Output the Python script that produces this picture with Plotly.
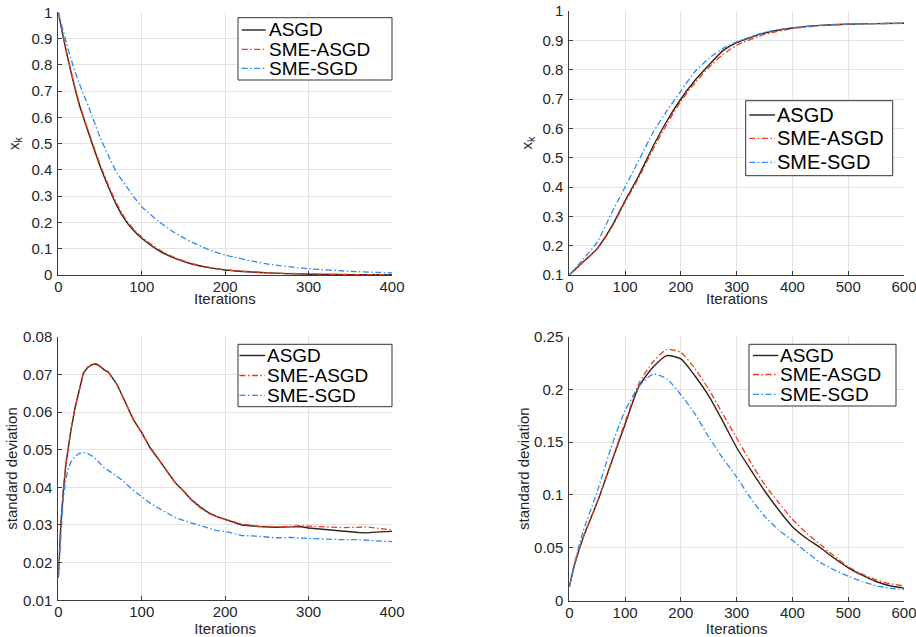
import plotly.graph_objects as go

# ---------------- data ----------------
# Panel 1 (top-left): x_k vs iterations
ITER_TL = [0, 5, 10, 15, 20, 25, 30, 40, 50, 60, 70, 80, 90, 100, 120, 140, 160, 180, 200, 250, 300, 350, 400]
TL_ASGD = [1.0, 0.92, 0.845, 0.775, 0.71, 0.65, 0.6, 0.505, 0.415, 0.336, 0.265, 0.21, 0.17, 0.14, 0.094, 0.063, 0.042, 0.028, 0.019, 0.008, 0.003, 0.0015, 0.0008]
TL_SME_ASGD = [1.0, 0.92, 0.848, 0.78, 0.715, 0.656, 0.605, 0.512, 0.422, 0.343, 0.272, 0.216, 0.176, 0.145, 0.098, 0.066, 0.044, 0.03, 0.02, 0.009, 0.004, 0.002, 0.001]
TL_SME_SGD = [1.0, 0.94, 0.88, 0.825, 0.775, 0.73, 0.69, 0.61, 0.525, 0.455, 0.39, 0.345, 0.3, 0.26, 0.205, 0.16, 0.125, 0.097, 0.076, 0.042, 0.024, 0.014, 0.008]

# Panel 2 (top-right): x_k vs iterations
ITER_TR = [0, 25, 50, 75, 100, 125, 150, 175, 200, 225, 250, 275, 300, 350, 400, 450, 500, 550, 600]
TR_ASGD = [0.1, 0.145, 0.19, 0.262, 0.353, 0.44, 0.538, 0.625, 0.7, 0.763, 0.815, 0.864, 0.892, 0.925, 0.942, 0.951, 0.955, 0.957, 0.958]
TR_SME_ASGD = [0.1, 0.144, 0.188, 0.258, 0.348, 0.433, 0.528, 0.615, 0.692, 0.755, 0.807, 0.851, 0.883, 0.92, 0.94, 0.95, 0.955, 0.957, 0.958]
TR_SME_SGD = [0.1, 0.154, 0.212, 0.308, 0.4, 0.492, 0.585, 0.66, 0.727, 0.793, 0.838, 0.872, 0.895, 0.927, 0.943, 0.951, 0.955, 0.957, 0.958]

# Panel 3 (bottom-left): standard deviation vs iterations
ITER_BL = [0, 3, 6, 9, 12, 15, 20, 25, 30, 35, 40, 45, 50, 55, 60, 70, 80, 90, 100, 110, 120, 130, 140, 150, 160,
           170, 180, 190, 200, 220, 240, 260, 280, 290, 300, 320, 340, 360, 370, 380, 400]
BL_ASGD = [0.016, 0.03, 0.039, 0.046, 0.0505, 0.055, 0.061, 0.066, 0.0703, 0.0718, 0.0725, 0.0728, 0.0722, 0.0712, 0.0706,
           0.0675, 0.0627, 0.058, 0.0545, 0.0505, 0.0475, 0.0445, 0.0413, 0.039, 0.0366,
           0.0348, 0.0333, 0.0322, 0.0314, 0.0300, 0.0296, 0.0294, 0.0295, 0.0296, 0.0292, 0.0287, 0.0284, 0.028, 0.0279, 0.0281, 0.0283]
BL_SME_ASGD = [0.016, 0.03, 0.039, 0.046, 0.0505, 0.0552, 0.0612, 0.0662, 0.0703, 0.0719, 0.0726, 0.0728, 0.0721, 0.0713, 0.0705,
               0.0674, 0.0628, 0.0581, 0.0544, 0.0507, 0.0476, 0.0444, 0.0412, 0.0391, 0.0367,
               0.0346, 0.0331, 0.0322, 0.0315, 0.0302, 0.0297, 0.0295, 0.0297, 0.0298, 0.0297, 0.0295, 0.0293, 0.0294, 0.0295, 0.0292, 0.0287]
BL_SME_SGD = [0.016, 0.028, 0.037, 0.042, 0.045, 0.0467, 0.0482, 0.049, 0.0493, 0.049, 0.0484, 0.0475, 0.0462, 0.0452, 0.0445,
              0.043, 0.0412, 0.0392, 0.0375, 0.0358, 0.0345, 0.0333, 0.032, 0.0312, 0.0306,
              0.0299, 0.0292, 0.0285, 0.0283, 0.0272, 0.027, 0.0266, 0.0267, 0.0265, 0.0264, 0.0263, 0.0261, 0.0261, 0.0259, 0.0258, 0.0256]

# Panel 4 (bottom-right): standard deviation vs iterations
ITER_BR = [0, 10, 25, 50, 75, 100, 125, 150, 175, 200, 225, 250, 275, 300, 325, 350, 375, 400, 425, 450, 475, 500, 525, 550, 575, 600]
BR_ASGD = [0.013, 0.035, 0.06, 0.093, 0.13, 0.167, 0.203, 0.221, 0.232, 0.229, 0.213, 0.194, 0.17, 0.145, 0.124, 0.104, 0.086, 0.07, 0.059, 0.05, 0.04, 0.031, 0.024, 0.018, 0.014, 0.0117]
BR_SME_ASGD = [0.013, 0.035, 0.06, 0.093, 0.131, 0.169, 0.206, 0.226, 0.238, 0.235, 0.22, 0.2, 0.177, 0.154, 0.131, 0.11, 0.093, 0.077, 0.064, 0.053, 0.042, 0.032, 0.025, 0.0196, 0.016, 0.0139]
BR_SME_SGD = [0.013, 0.037, 0.066, 0.103, 0.145, 0.18, 0.203, 0.2145, 0.21, 0.195, 0.177, 0.155, 0.135, 0.117, 0.097, 0.08, 0.067, 0.057, 0.046, 0.036, 0.029, 0.023, 0.018, 0.014, 0.0115, 0.0105]

SERIES_NAMES = ["ASGD", "SME-ASGD", "SME-SGD"]
X_TITLE = "Iterations"
Y_TITLES = ["x<sub>k</sub>", "x<sub>k</sub>", "standard deviation", "standard deviation"]

# ---------------- style / layout ----------------
FONT = "Liberation Sans, Arial, Helvetica, sans-serif"
COLORS = ["#2e221e", "#f03c16", "#2a8cf5"]
DASHES = ["solid", "6px,2.5px,1.5px,2.5px", "6px,2.5px,1.5px,2.5px"]
WIDTHS = [1.4, 1.3, 1.3]
W, H = 916, 637


def px(v):
    return v / W


def py(v):
    return 1 - v / H


panels = [
    dict(iters=ITER_TL, ys=[TL_ASGD, TL_SME_ASGD, TL_SME_SGD], xr=[0, 400], yr=[0, 1], ydt=0.1,
         dom=([58.3, 392], [12.3, 275]), ystand=8, xtitle_y=298, shape="spline",
         leg=dict(box=(238, 17.7, 392, 80), rows=(30, 49.3, 68.3), line=(241.7, 265.7), text=267.5, fs=19)),
    dict(iters=ITER_TR, ys=[TR_ASGD, TR_SME_ASGD, TR_SME_SGD], xr=[0, 600], yr=[0.1, 1], ydt=0.1,
         dom=([569.3, 904], [11, 275]), ystand=6, xtitle_y=298, shape="spline",
         leg=dict(box=(745.7, 100.7, 892.7, 175.7), rows=(115, 138.3, 162.3), line=(749.3, 775), text=775.5, fs=20)),
    dict(iters=ITER_BL, ys=[BL_ASGD, BL_SME_ASGD, BL_SME_SGD], xr=[0, 400], yr=[0.01, 0.08], ydt=0.01,
         dom=([58.3, 392], [336.7, 600.3]), ystand=1, xtitle_y=None, shape="linear",
         leg=dict(box=(238, 344.3, 392, 406.7), rows=(355.5, 375.5, 395.3), line=(239.5, 265), text=266, fs=19)),
    dict(iters=ITER_BR, ys=[BR_ASGD, BR_SME_ASGD, BR_SME_SGD], xr=[0, 600], yr=[0, 0.25], ydt=0.05,
         dom=([569.3, 904], [336.7, 600.5]), ystand=0, xtitle_y=None, shape="spline",
         leg=dict(box=(749, 344.3, 896, 406), rows=(355.5, 374.5, 394.3), line=(753, 778.3), text=778.5, fs=19)),
]

fig = go.Figure()
layout = dict(
    width=W, height=H, margin=dict(l=0, r=0, t=0, b=0),
    paper_bgcolor="white", plot_bgcolor="white",
    font=dict(family=FONT, size=15, color="#262626"),
    showlegend=False,
)
shapes, annotations = [], []

for i, p in enumerate(panels):
    n = "" if i == 0 else str(i + 1)
    xa, ya = "x" + n, "y" + n
    for k in range(3):
        fig.add_trace(go.Scatter(
            x=p["iters"], y=p["ys"][k], name=SERIES_NAMES[k], mode="lines",
            line=dict(color=COLORS[k], width=WIDTHS[k], dash=DASHES[k], shape=p["shape"], smoothing=0.6),
            xaxis=xa, yaxis=ya, showlegend=False,
        ))
    (x0, x1), (y0, y1) = p["dom"]
    axcommon = dict(showline=True, linecolor="#3c3c3c", linewidth=1, ticks="inside", ticklen=4,
                    tickcolor="#3c3c3c", showgrid=True, gridcolor="#e3e3e3", gridwidth=1, zeroline=False,
                    automargin=False, ticklabeloverflow="allow",
                    tickfont=dict(size=15, color="#262626", family=FONT), mirror=False)
    xaxis = dict(axcommon, domain=[px(x0), px(x1)], range=p["xr"], dtick=100, tick0=0, anchor=ya,
                 ticklabelstandoff=-2)
    if p["xtitle_y"] is None:
        xaxis["title"] = dict(text=X_TITLE, font=dict(size=15, color="#262626"), standoff=4)
    else:
        annotations.append(dict(xref="x" + n + " domain", yref="paper", x=0.5, y=py(p["xtitle_y"]),
                                xanchor="center", yanchor="middle", text=X_TITLE, showarrow=False,
                                font=dict(family=FONT, size=15, color="#262626")))
    layout["xaxis" + n] = xaxis
    layout["yaxis" + n] = dict(axcommon, domain=[py(y1), py(y0)], range=p["yr"], dtick=p["ydt"], tick0=0,
                               anchor=xa, ticklabelstandoff=2,
                               title=dict(text=Y_TITLES[i], font=dict(size=15, color="#262626"), standoff=p["ystand"]))

    # legend box (drawn in paper coordinates)
    L = p["leg"]
    bx0, by0, bx1, by1 = L["box"]
    shapes.append(dict(type="rect", xref="paper", yref="paper", x0=px(bx0), x1=px(bx1), y0=py(by1), y1=py(by0),
                       line=dict(color="#333333", width=1), fillcolor="white", layer="above"))
    for k in range(3):
        ry = L["rows"][k]
        shapes.append(dict(type="line", xref="paper", yref="paper", x0=px(L["line"][0]), x1=px(L["line"][1]),
                           y0=py(ry), y1=py(ry), layer="above",
                           line=dict(color=COLORS[k], width=WIDTHS[k], dash=DASHES[k])))
        annotations.append(dict(xref="paper", yref="paper", x=px(L["text"]), y=py(ry), xanchor="left",
                                yanchor="middle", text=SERIES_NAMES[k], showarrow=False, borderpad=0,
                                font=dict(family=FONT, size=L["fs"], color="black")))

layout["shapes"] = shapes
layout["annotations"] = annotations
fig.update_layout(**layout)
# remove the browser's default 8px body margin so the figure fills the window exactly
fig.write_html("out.html", config={"displayModeBar": False},
               post_script="document.body.style.margin='0';")
